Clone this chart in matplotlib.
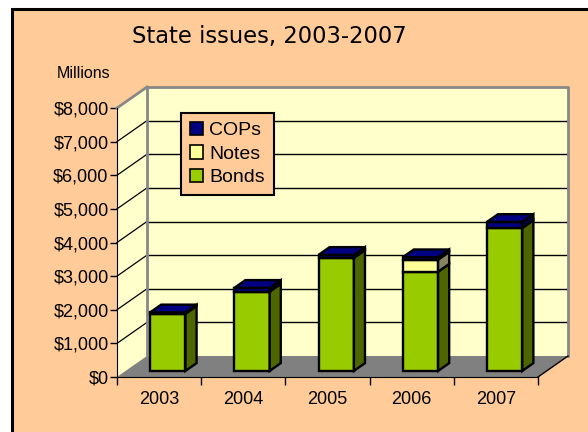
import matplotlib
matplotlib.use("Agg")
import matplotlib.pyplot as plt
from matplotlib.patches import Polygon, Rectangle, Patch

years = ["2003", "2004", "2005", "2006", "2007"]
bonds = [1700, 2360, 3360, 2950, 4250]
notes = [0, 0, 0, 360, 0]
cops = [40, 110, 90, 70, 180]
yticks = [0, 1000, 2000, 3000, 4000, 5000, 6000, 7000, 8000]
ylabels = ["$0", "$1,000", "$2,000", "$3,000", "$4,000", "$5,000",
           "$6,000", "$7,000", "$8,000"]

peach = "#FFCC99"
wall = "#FFFFCC"
floor_c = "#808080"
series = [("Bonds", bonds, "#99CC00", "#4D6600"),
          ("Notes", notes, "#FFFF99", "#858560"),
          ("COPs", cops, "#000080", "#000048")]

W, H = 588, 432
fig = plt.figure(figsize=(W / 100, H / 100), dpi=100, facecolor="white")

# peach panel with black frame (runs off the right and bottom edges)
fig.patches.append(Rectangle((12 / W, -0.1), 1.2, 1 - 9 / H + 0.1,
                             transform=fig.transFigure, facecolor=peach,
                             edgecolor="black", lw=2.2, zorder=-10))

ax = fig.add_axes([117 / W, 1 - 377 / H, (538 - 117) / W, (377 - 108) / H])
ax.set_xlim(0, 5)
ax.set_ylim(0, 8000)
ax.patch.set_visible(False)
for s in ["top", "right"]:
    ax.spines[s].set_visible(False)
ax.spines["left"].set_color("black")
ax.spines["bottom"].set_color("black")
ax.spines["left"].set_zorder(5)
ax.spines["bottom"].set_zorder(5)

# depth of the 3d box, in data units
DX = 5 * 30 / 421
DY = 8000 * 21 / 269


def P(x, y, d):
    return (x + d * DX, y + d * DY)


def poly(pts, fc, ec="none", lw=0, z=1):
    ax.add_patch(Polygon(pts, closed=True, facecolor=fc, edgecolor=ec,
                         lw=lw, zorder=z, clip_on=False, joinstyle="miter"))


# walls and floor
poly([P(0, 0, 1), P(5, 0, 1), P(5, 8000, 1), P(0, 8000, 1)], wall)
poly([P(0, 0, 0), P(0, 0, 1), P(0, 8000, 1), P(0, 8000, 0)], wall)
poly([P(0, 0, 0), P(5, 0, 0), P(5, 0, 1), P(0, 0, 1)], floor_c)

for v in yticks[1:-1]:
    ax.plot(*zip(P(0, v, 1), P(5, v, 1)), color="black", lw=1, zorder=2, clip_on=False)
    ax.plot(*zip(P(0, v, 0), P(0, v, 1)), color="black", lw=0.9, zorder=2, clip_on=False)

gray_edge = dict(color="#888888", lw=2, zorder=2, clip_on=False, solid_capstyle="projecting")
ax.plot(*zip(P(0, 0, 1), P(0, 8000, 1), P(5, 8000, 1), P(5, 0, 1)), **gray_edge)
ax.plot(*zip(P(0, 8000, 0), P(0, 8000, 1)), **gray_edge)
ax.plot(*zip(P(5, 0, 0), P(5, 0, 1)), color="black", lw=1, zorder=2, clip_on=False)

# stacked 3d columns
bw = 0.42
d0, d1 = 0.29, 0.66
for i in range(len(years)):
    x0 = i + 0.5 - bw / 2
    x1 = i + 0.5 + bw / 2
    base = 0
    for name, vals, fc, side in series:
        v = vals[i]
        if v <= 0:
            continue
        top = base + v
        poly([P(x0, base, d0), P(x1, base, d0), P(x1, top, d0), P(x0, top, d0)],
             fc, "black", 1.7, 3)
        poly([P(x1, base, d0), P(x1, base, d1), P(x1, top, d1), P(x1, top, d0)],
             side, "black", 1.7, 3)
        base = top
    poly([P(x0, base, d0), P(x1, base, d0), P(x1, base, d1), P(x0, base, d1)],
         "#000080", "black", 1.7, 3)

# axes ticks and labels
ax.set_yticks(yticks)
ax.set_yticklabels(ylabels, fontfamily="Liberation Sans", fontsize=13)
ax.tick_params(axis="y", length=5, width=1, pad=1, color="black")
ax.set_xticks(range(6))
ax.set_xticklabels([""] * 6)
ax.tick_params(axis="x", which="major", length=6, width=1, color="black")
ax.set_xticks([i + 0.5 for i in range(5)], minor=True)
ax.set_xticklabels(years, minor=True, fontfamily="Liberation Sans", fontsize=13)
ax.tick_params(axis="x", which="minor", length=0, pad=10)

fig.text(269 / W, 1 - 37 / H, "State issues, 2003-2007", ha="center", va="center",
         fontfamily="DejaVu Sans", fontsize=16.3, color="black")
fig.text(84 / W, 1 - 74 / H, "Millions", ha="center", va="center",
         fontfamily="Liberation Sans", fontsize=11.5)

handles = [Patch(facecolor=fc, edgecolor="black", lw=1.2, label=name)
           for name, _, fc, _ in reversed(series)]
leg = fig.legend(handles=handles, loc="upper left",
                 bbox_to_anchor=(181 / W, 1 - 113 / H),
                 prop={"family": "Liberation Sans", "size": 14},
                 frameon=True, fancybox=False, framealpha=1,
                 facecolor=peach, edgecolor="black",
                 handlelength=0.7, handleheight=0.7, handletextpad=0.3,
                 labelspacing=0.3, borderpad=0.45, borderaxespad=0)
leg.get_frame().set_linewidth(1.5)
leg.set_zorder(10)

fig.savefig("out.png", dpi=100, facecolor="white")
